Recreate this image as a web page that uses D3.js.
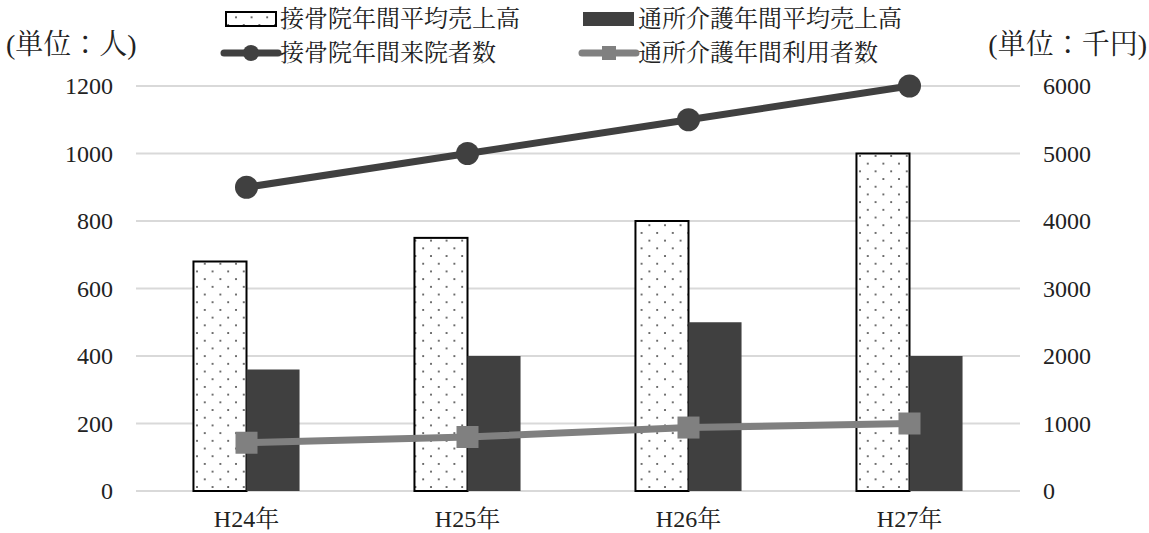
<!DOCTYPE html>
<html>
<head>
<meta charset="utf-8">
<script src="https://cdn.jsdelivr.net/npm/d3@7/dist/d3.min.js"></script>
<style>
  html, body { margin: 0; padding: 0; background: #fff; }
  svg text { font-family: "Liberation Serif", "Times New Roman", "Noto Serif CJK JP", "Noto Sans CJK JP", serif; fill: #222; }
</style>
</head>
<body>
<svg id="chart" width="1149" height="533"></svg>
<script>
// Years
const categories = ["H24年", "H25年", "H26年", "H27年"];
// Average annual sales (thousand yen) — right axis
const seikotsuSales = [3400, 3750, 4000, 5000];
const tsushoSales = [1800, 2000, 2500, 2000];
// Annual visitors / users (people) — left axis
const seikotsuVisitors = [900, 1000, 1100, 1200];
const tsushoUsers = [143, 160, 188, 200];
// Tick labels
const leftTicks = [0, 200, 400, 600, 800, 1000, 1200];
const rightTicks = [0, 1000, 2000, 3000, 4000, 5000, 6000];
// Legend labels
const seriesNames = ["接骨院年間平均売上高", "通所介護年間平均売上高", "接骨院年間来院者数", "通所介護年間利用者数"];

const svg = d3.select("#chart");
const plot = { left: 136, right: 1020, top: 86, bottom: 491 };

const x = d3.scaleBand().domain(categories).range([plot.left, plot.right])
  .paddingInner(0.52).paddingOuter(0.26);
const xSub = d3.scaleBand().domain([0, 1]).range([0, x.bandwidth()]);
const yLeft = d3.scaleLinear().domain([0, 1200]).range([plot.bottom, plot.top]);
const yRight = d3.scaleLinear().domain([0, 6000]).range([plot.bottom, plot.top]);

// dotted fill
const defs = svg.append("defs");
const pat = defs.append("pattern").attr("id", "dots")
  .attr("patternUnits", "userSpaceOnUse").attr("width", 15.6).attr("height", 15.4);
pat.append("rect").attr("width", 15.6).attr("height", 15.4).attr("fill", "#fff");
pat.append("circle").attr("cx", 2).attr("cy", 2).attr("r", 0.95).attr("fill", "#333");
pat.append("circle").attr("cx", 9.8).attr("cy", 9.7).attr("r", 0.95).attr("fill", "#333");

// gridlines
svg.append("g").selectAll("line").data(leftTicks).join("line")
  .attr("x1", plot.left).attr("x2", plot.right)
  .attr("y1", d => yLeft(d)).attr("y2", d => yLeft(d))
  .attr("stroke", "#d9d9d9").attr("stroke-width", 2);

const fmt = d3.format("d");

// left axis
const axL = svg.append("g").attr("transform", `translate(${plot.left},0)`)
  .call(d3.axisLeft(yLeft).tickValues(leftTicks).tickFormat(fmt).tickSize(0).tickPadding(23));
axL.select(".domain").remove();
axL.selectAll("text").style("font-size", "24px").attr("fill", "#222");

// right axis
const axR = svg.append("g").attr("transform", `translate(${plot.right},0)`)
  .call(d3.axisRight(yRight).tickValues(rightTicks).tickFormat(fmt).tickSize(0).tickPadding(23));
axR.select(".domain").remove();
axR.selectAll("text").style("font-size", "24px").attr("fill", "#222");

// category axis
const axB = svg.append("g").attr("transform", `translate(0,${plot.bottom})`)
  .call(d3.axisBottom(x).tickSize(0).tickPadding(19));
axB.select(".domain").remove();
axB.selectAll("text").style("font-size", "24px").attr("fill", "#222");

// bars
svg.append("g").selectAll("rect").data(seikotsuSales).join("rect")
  .attr("x", (d, i) => x(categories[i]) + xSub(0))
  .attr("width", xSub.bandwidth())
  .attr("y", d => yRight(d))
  .attr("height", d => yRight(0) - yRight(d))
  .attr("fill", "url(#dots)").attr("stroke", "#000").attr("stroke-width", 2);

svg.append("g").selectAll("rect").data(tsushoSales).join("rect")
  .attr("x", (d, i) => x(categories[i]) + xSub(1))
  .attr("width", xSub.bandwidth())
  .attr("y", d => yRight(d))
  .attr("height", d => yRight(0) - yRight(d))
  .attr("fill", "#404040");

const cx = (d, i) => x(categories[i]) + x.bandwidth() / 2;

// visitors line
svg.append("path").datum(seikotsuVisitors)
  .attr("d", d3.line().x(cx).y(d => yLeft(d)))
  .attr("fill", "none").attr("stroke", "#404040").attr("stroke-width", 7);
svg.append("g").selectAll("circle").data(seikotsuVisitors).join("circle")
  .attr("cx", cx).attr("cy", d => yLeft(d)).attr("r", 11.5).attr("fill", "#404040");

// users line
svg.append("path").datum(tsushoUsers)
  .attr("d", d3.line().x(cx).y(d => yLeft(d)))
  .attr("fill", "none").attr("stroke", "#808080").attr("stroke-width", 7);
svg.append("g").selectAll("rect").data(tsushoUsers).join("rect")
  .attr("x", (d, i) => cx(d, i) - 11).attr("y", d => yLeft(d) - 11)
  .attr("width", 22).attr("height", 22).attr("fill", "#808080");

// unit labels
svg.append("text").attr("x", 6).attr("y", 54).style("font-size", "28px").text("(単位：人)");
svg.append("text").attr("x", 1147).attr("y", 54).attr("text-anchor", "end").style("font-size", "28px").text("(単位：千円)");

// legend
const lg = svg.append("g");
const row1 = 19, row2 = 53;
const lfs = "24px";
lg.append("rect").attr("x", 226).attr("y", row1 - 7).attr("width", 50).attr("height", 14)
  .attr("fill", "url(#dots)").attr("stroke", "#000").attr("stroke-width", 2);
lg.append("text").attr("x", 280).attr("y", row1).attr("dy", "0.35em").style("font-size", lfs).text(seriesNames[0]);

lg.append("rect").attr("x", 583).attr("y", row1 - 7).attr("width", 51).attr("height", 14).attr("fill", "#404040");
lg.append("text").attr("x", 638).attr("y", row1).attr("dy", "0.35em").style("font-size", lfs).text(seriesNames[1]);

lg.append("line").attr("x1", 224).attr("x2", 278).attr("y1", row2).attr("y2", row2)
  .attr("stroke", "#404040").attr("stroke-width", 7).attr("stroke-linecap", "round");
lg.append("circle").attr("cx", 251).attr("cy", row2).attr("r", 8).attr("fill", "#404040");
lg.append("text").attr("x", 280).attr("y", row2).attr("dy", "0.35em").style("font-size", lfs).text(seriesNames[2]);

lg.append("line").attr("x1", 582).attr("x2", 636).attr("y1", row2).attr("y2", row2)
  .attr("stroke", "#808080").attr("stroke-width", 7).attr("stroke-linecap", "round");
lg.append("rect").attr("x", 602).attr("y", row2 - 7).attr("width", 14).attr("height", 14).attr("fill", "#808080");
lg.append("text").attr("x", 638).attr("y", row2).attr("dy", "0.35em").style("font-size", lfs).text(seriesNames[3]);
</script>
</body>
</html>
